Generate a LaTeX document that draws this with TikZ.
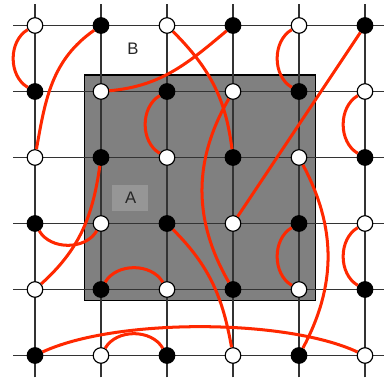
\documentclass[tikz,border=0pt]{standalone}
\usepackage{fontspec}
\setmainfont{Liberation Sans}
\definecolor{dimerred}{RGB}{255,40,0}
\definecolor{boxgrey}{RGB}{128,128,128}
\definecolor{labelgrey}{RGB}{150,150,150}
\begin{document}
\begin{tikzpicture}[font=\fontsize{7.2}{8}\selectfont,
  site0/.style={circle,draw=black,line width=0.5pt,fill=white,minimum size=0.236cm,inner sep=0pt},
  site1/.style={site0,fill=black},
  dimer/.style={dimerred,line width=1.3pt}]
  \useasboundingbox (-0.530,-0.447) rectangle (5.288,5.386);
  \draw[black,line width=0.5pt,fill=boxgrey] (0.75,0.833) rectangle (4.25,4.25);
  \fill[labelgrey] (1.167,2.189) rectangle (1.712,2.583);
  \foreach \i in {0,...,5}{
    \draw[black!80,line width=0.45pt] (-0.333,\i)--(5.333,\i);
    \draw[black!80,line width=0.45pt] (\i,-0.333)--(\i,5.333);}
  \node[text=black!85] (labA) at (1.45,2.39) {A};
  \node[text=black!85] (labB) at (1.485,4.644) {B};
  \foreach \r in {0,...,5}
    \foreach \c in {0,...,5}{
      \pgfmathtruncatemacro\p{mod(\c+\r,2)}
      \node[site\p] (v\c\r) at (\c,5-\r) {};}
  % short pairs
  \foreach \a/\b in {v00/v01,v40/v41,v21/v22,v51/v52,v43/v44,v53/v54,v03/v13}
    \draw[dimer] (\a) to[bend right=60] (\b);
  \foreach \a/\b in {v14/v24,v15/v25}
    \draw[dimer] (\a) to[bend left=60] (\b);
  % long pairs
  \draw[dimer] (v10) to[out=215,in=80] (v02);
  \draw[dimer] (v20) to[out=-45,in=97] (v32);
  \draw[dimer] (v30) to[out=220,in=5] (v11);
  \draw[dimer] (v50) -- (v33);
  \draw[dimer] (v31) to[bend right=30] (v34);
  \draw[dimer] (v12) to[out=262,in=42] (v04);
  \draw[dimer] (v23) to[out=-45,in=100] (v35);
  \draw[dimer] (v42) to[bend left=28] (v45);
  \draw[dimer] (v05) to[out=25,in=155,looseness=0.65] (v55);
\end{tikzpicture}
\end{document}
